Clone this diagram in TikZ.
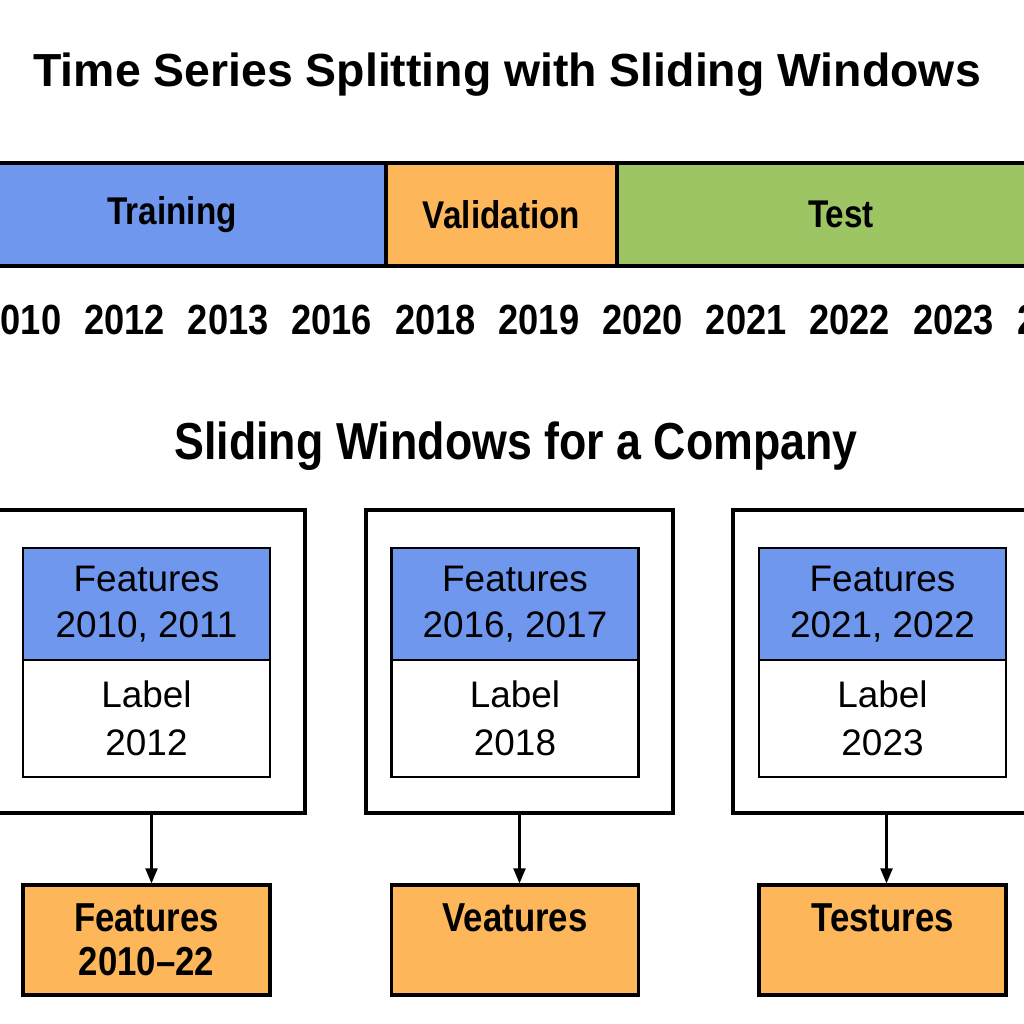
\documentclass[tikz,border=0pt]{standalone}
\usepackage{fontspec}
\setmainfont{Liberation Sans}
\newfontfamily\condbf[FakeStretch=0.86, UprightFont={* Bold}, Ligatures=TeX]{Liberation Sans}
\usetikzlibrary{arrows.meta, positioning}
\definecolor{trainblue}{HTML}{6F97EE}
\definecolor{valorange}{HTML}{FDB75A}
\definecolor{testgreen}{HTML}{9DC563}

\begin{document}
\begin{tikzpicture}[x=0.1mm, y=-0.1mm,
    seg/.style={draw, line width=1pt, fill=#1, minimum height=10.3mm, inner sep=0pt, outer sep=0pt, font=\condbf\fontsize{11}{13}\selectfont},
    yr/.style={inner sep=0pt, font=\condbf\fontsize{12}{14}\selectfont},
    window/.style={draw, line width=0.9pt, minimum width=30.7mm, minimum height=30.3mm},
    featbox/.style={draw, line width=0.8pt, fill=trainblue, minimum width=24.7mm, minimum height=11.2mm, outer sep=0pt, align=center, font=\fontsize{10.5}{13}\selectfont},
    labbox/.style={draw, line width=0.8pt, fill=white, minimum width=24.7mm, minimum height=11.7mm, outer sep=0pt, align=center, font=\fontsize{10.5}{13.5}\selectfont},
    resbox/.style={draw, line width=0.9pt, fill=valorange, minimum width=24.7mm, minimum height=11mm, align=center, font=\condbf\fontsize{11.5}{12.5}\selectfont},
    arrow/.style={-{Triangle[length=1.5mm, width=1.2mm]}, line width=0.6pt}
]
\useasboundingbox (0,0) rectangle (1024,1024);
\clip (0,0) rectangle (1024,1024);

\node[font=\bfseries\fontsize{13.2}{15}\selectfont] (title) at (507,75) {Time Series Splitting with Sliding Windows};

% timeline bar
\node[seg=trainblue, minimum width=42.8mm] (train) at (172,214.5) {Training};
\node[seg=valorange, minimum width=23.1mm, right=0pt of train] (valid) {Validation};
\node[seg=testgreen, minimum width=44.8mm, right=0pt of valid] (test) {Test};

\foreach \yr [count=\i from 0] in {2010,2012,2013,2016,2018,2019,2020,2021,2022,2023}
    \node[yr] (y\i) at (21+103.6*\i,320) {\yr};
\node[yr, anchor=west] (ycut) at (1017,320) {2};

\node[font=\condbf\fontsize{14.8}{16}\selectfont] (subtitle) at (516,446) {Sliding Windows for a Company};

% windows
\node[window] (win1) at (151.5,661.5) {};
\node[window] (win2) at (519.5,661.5) {};
\node[window] (win3) at (886.5,661.5) {};

\node[featbox] (feat1) at (146.5,604) {Features\\2010, 2011};
\node[featbox] (feat2) at (515,604) {Features\\2016, 2017};
\node[featbox] (feat3) at (882.5,604) {Features\\2021, 2022};
\node[labbox, below=0pt of feat1] (lab1) {Label\\2012};
\node[labbox, below=0pt of feat2] (lab2) {Label\\2018};
\node[labbox, below=0pt of feat3] (lab3) {Label\\2023};

\node[resbox] (res1) at (146.5,940) {Features\\2010–22};
\node[resbox] (res2) at (515,940) {Veatures\\\mbox{}};
\node[resbox] (res3) at (882.5,940) {Testures\\\mbox{}};

\draw[arrow] (win1.south) -- (win1.south |- res1.north);
\draw[arrow] (win2.south) -- (win2.south |- res2.north);
\draw[arrow] (win3.south) -- (win3.south |- res3.north);
\end{tikzpicture}
\end{document}
